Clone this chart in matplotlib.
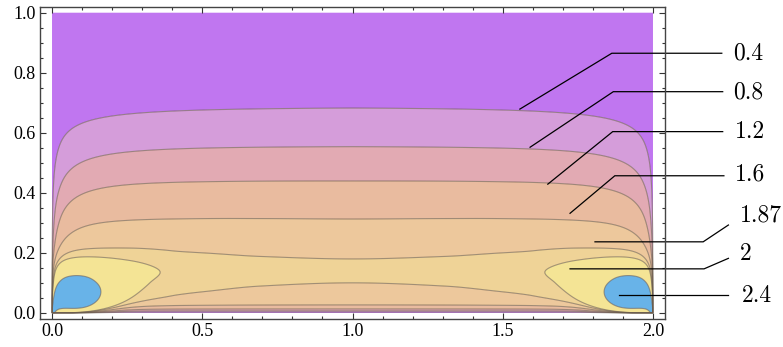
import numpy as np
import matplotlib
matplotlib.use("Agg")
import matplotlib.pyplot as plt
from matplotlib.ticker import MultipleLocator, FormatStrFormatter

# ---------------- data ----------------
# contour levels and band colours (lowest band first)
levels = [0.4, 0.8, 1.2, 1.6, 1.87, 2.0, 2.4]
band_colors = ["#c076f0", "#d59dda", "#e2aab3", "#e9bb9f",
               "#edc89c", "#efd397", "#f4e495", "#68b3e8"]

# mid-channel profile (x = 1): heights where the field takes these values
core_y = [0.0, 0.027, 0.10, 0.14, 0.18, 0.313, 0.44, 0.555, 0.685, 0.85, 1.0]
core_val = [1.76, 1.79, 1.87, 1.905, 1.87, 1.60, 1.20, 0.80, 0.40, 0.10, 0.0]

# rise of the field near each side wall, by distance from the wall
plume_d = [0.0, 0.10, 0.15, 0.26, 0.365, 0.42, 0.50, 0.69, 1.0]
plume_amp = [0.33, 0.29, 0.26, 0.18, 0.095, 0.062, 0.04, 0.012, 0.0]
plume_yc, plume_slo, plume_shi0, plume_shi2 = 0.115, 0.14, 0.075, 0.25
# round corner blob (the 2.4 region) and its point into the corner
blob_amp, blob_xc, blob_yc, blob_sx, blob_sy = 0.50, 0.095, 0.05, 0.115, 0.08
corner_amp, corner_r = 0.35, 0.035
# wall boundary layers
side_k, side_p = 0.152, 0.55
bottom_k, bottom_len = 0.012, 0.2

# labels with leader lines: start point, bend point, end point, text position
label_text = ["0.4", "0.8", "1.2", "1.6", "1.87", "2", "2.4"]
label_start = [(1.557, 0.679), (1.591, 0.552), (1.650, 0.429), (1.724, 0.332),
               (1.807, 0.237), (1.724, 0.147), (1.887, 0.060)]
label_bend = [(1.863, 0.865), (1.868, 0.737), (1.866, 0.604), (1.873, 0.457),
              (2.167, 0.237), (2.170, 0.147), (2.100, 0.060)]
label_end = [(2.229, 0.865), (2.232, 0.737), (2.232, 0.604), (2.236, 0.457),
             (2.251, 0.293), (2.251, 0.182), (2.251, 0.060)]
label_pos = [(2.266, 0.863), (2.266, 0.736), (2.272, 0.604), (2.272, 0.462),
             (2.290, 0.326), (2.290, 0.196), (2.296, 0.058)]

x_ticks = [0.0, 0.5, 1.0, 1.5, 2.0]
y_ticks = [0.0, 0.2, 0.4, 0.6, 0.8, 1.0]


def pchip(xk, yk, x, flat_end=False):
    xk = np.asarray(xk, float)
    yk = np.asarray(yk, float)
    h = np.diff(xk)
    delta = np.diff(yk) / h
    n = len(xk)
    dk = np.zeros(n)
    for k in range(1, n - 1):
        if delta[k - 1] * delta[k] > 0:
            w1 = 2 * h[k] + h[k - 1]
            w2 = h[k] + 2 * h[k - 1]
            dk[k] = (w1 + w2) / (w1 / delta[k - 1] + w2 / delta[k])
    dk[0] = delta[0]
    dk[-1] = 0.0 if flat_end else delta[-1]
    idx = np.clip(np.searchsorted(xk, x) - 1, 0, n - 2)
    t = np.clip((x - xk[idx]) / h[idx], 0, 1)
    h00 = 2 * t**3 - 3 * t**2 + 1
    h10 = t**3 - 2 * t**2 + t
    h01 = -2 * t**3 + 3 * t**2
    h11 = t**3 - t**2
    return (h00 * yk[idx] + h10 * h[idx] * dk[idx]
            + h01 * yk[idx + 1] + h11 * h[idx] * dk[idx + 1])


def skew_gauss(y, yc, slo, shi):
    return np.exp(-np.where(y < yc, ((y - yc) / slo) ** 2, ((y - yc) / shi) ** 2))


# ---------------- field ----------------
xg = np.linspace(0, 2, 2001)
yg = np.linspace(0, 1, 1001)
X, Y = np.meshgrid(xg, yg)
d = np.minimum(X, 2 - X)

core = pchip(core_y, core_val, Y)
amp = np.clip(pchip(plume_d, plume_amp, d, flat_end=True), 0, None)
plume = amp * skew_gauss(Y, plume_yc, plume_slo, plume_shi0 + plume_shi2 * d**2)
blob = blob_amp * np.exp(-((d - blob_xc) / blob_sx) ** 2 - ((Y - blob_yc) / blob_sy) ** 2)
corner = corner_amp * np.exp(-np.hypot(d, Y) / corner_r)
core = core + plume + blob + corner

dx = side_k * Y**2 + 1e-9
Wx = 1 - np.exp(-(d / dx) ** side_p)
dy = bottom_k * (1 - np.exp(-(d / bottom_len) ** 3)) + 1e-9
Wy = 1 - np.exp(-(Y / dy))
F = Wx * Wy * core

# ---------------- plot ----------------
fig = plt.figure(figsize=(7.83, 3.47), dpi=100)
ax = fig.add_axes([40 / 783, 28 / 347, 625 / 783, 312.3 / 347])

ax.contourf(X, Y, F, levels=[-10] + levels + [100], colors=band_colors, antialiased=True)
ax.contour(X, Y, F, levels=levels, colors=[(0.42, 0.36, 0.30)], linewidths=0.8, alpha=0.6)

ax.set_xlim(-0.04, 2.04)
ax.set_ylim(-0.02, 1.02)
ax.set_xticks(x_ticks)
ax.set_yticks(y_ticks)
ax.xaxis.set_minor_locator(MultipleLocator(0.1))
ax.yaxis.set_minor_locator(MultipleLocator(0.05))
ax.xaxis.set_major_formatter(FormatStrFormatter("%.1f"))
ax.yaxis.set_major_formatter(FormatStrFormatter("%.1f"))
ax.tick_params(which="both", direction="in", top=True, right=True, color="#333333", width=0.8)
ax.tick_params(which="major", length=4.0, labelsize=13, pad=3)
ax.tick_params(which="minor", length=2.2)
for lab in ax.get_xticklabels() + ax.get_yticklabels():
    lab.set_fontfamily("Liberation Serif")
for sp in ax.spines.values():
    sp.set_color("#444444")
    sp.set_linewidth(1.0)

for txt, s, b, e, p in zip(label_text, label_start, label_bend, label_end, label_pos):
    ax.plot([s[0], b[0], e[0]], [s[1], b[1], e[1]], color="black", lw=0.9, clip_on=False,
            solid_joinstyle="miter")
    ax.text(p[0], p[1], txt, fontsize=17, family="cmr10", ha="left", va="center", clip_on=False)

fig.savefig("out.png", dpi=100)
